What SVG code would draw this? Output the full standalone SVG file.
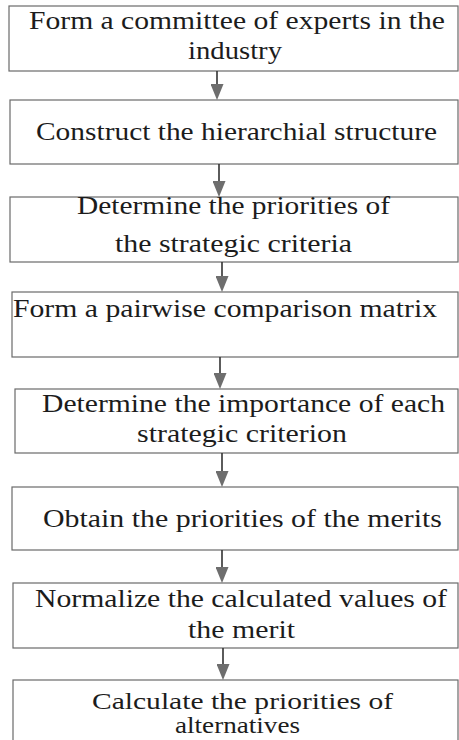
<svg xmlns="http://www.w3.org/2000/svg" width="459" height="740" viewBox="0 0 459 740">
<style>
  .box { fill: #ffffff; stroke: #6a6a6a; stroke-width: 1.2; }
  .lbl { font-family: "Liberation Serif", "Times New Roman", serif; font-size: 25px; fill: #1c1c1c; }
  .sm { font-size: 23px; }
  .conn { stroke: #333333; stroke-width: 1.6; fill: none; }
  .head { fill: #6e6e6e; stroke: none; }
</style>
<defs>
  <marker id="arr" markerUnits="userSpaceOnUse" markerWidth="16" markerHeight="13" refX="0" refY="6.5" orient="auto" viewBox="0 0 16 13">
    <path class="head" d="M0,0 L16,6.5 L0,13 Z"/>
  </marker>
</defs>
<rect width="459" height="740" fill="#ffffff"/>

<g id="node1">
  <rect class="box" x="9" y="6" width="449" height="65"/>
  <text class="lbl" x="29" y="29" textLength="416" lengthAdjust="spacingAndGlyphs">Form a committee of experts in the</text>
  <text class="lbl" x="188" y="59" textLength="94" lengthAdjust="spacingAndGlyphs">industry</text>
</g>
<g id="node2">
  <rect class="box" x="10" y="100" width="448" height="64"/>
  <text class="lbl" x="36" y="140" textLength="401" lengthAdjust="spacingAndGlyphs">Construct the hierarchial structure</text>
</g>
<g id="node3">
  <rect class="box" x="10" y="197" width="448" height="65"/>
  <text class="lbl" x="77" y="214" textLength="313" lengthAdjust="spacingAndGlyphs">Determine the priorities of</text>
  <text class="lbl" x="115" y="252" textLength="237" lengthAdjust="spacingAndGlyphs">the strategic criteria</text>
</g>
<g id="node4">
  <rect class="box" x="12" y="292" width="446" height="65"/>
  <text class="lbl" x="13" y="317" textLength="424" lengthAdjust="spacingAndGlyphs">Form a pairwise comparison matrix</text>
</g>
<g id="node5">
  <rect class="box" x="15" y="389" width="443" height="64"/>
  <text class="lbl" x="42" y="412" textLength="403" lengthAdjust="spacingAndGlyphs">Determine the importance of each</text>
  <text class="lbl" x="137" y="442" textLength="210" lengthAdjust="spacingAndGlyphs">strategic criterion</text>
</g>
<g id="node6">
  <rect class="box" x="12" y="487" width="446" height="63"/>
  <text class="lbl" x="43" y="527" textLength="399" lengthAdjust="spacingAndGlyphs">Obtain the priorities of the merits</text>
</g>
<g id="node7">
  <rect class="box" x="13" y="583" width="445" height="65"/>
  <text class="lbl" x="35" y="607" textLength="412" lengthAdjust="spacingAndGlyphs">Normalize the calculated values of</text>
  <text class="lbl" x="188" y="638" textLength="107" lengthAdjust="spacingAndGlyphs">the merit</text>
</g>
<g id="node8">
  <rect class="box" x="13" y="680" width="445" height="70"/>
  <text class="lbl sm" x="92" y="709" textLength="301" lengthAdjust="spacingAndGlyphs">Calculate the priorities of</text>
  <text class="lbl sm" x="175" y="733" textLength="125" lengthAdjust="spacingAndGlyphs">alternatives</text>
</g>

<g id="connectors">
  <line class="conn" x1="217" y1="71" x2="217" y2="84" marker-end="url(#arr)"/>
  <line class="conn" x1="219" y1="164" x2="219" y2="181" marker-end="url(#arr)"/>
  <line class="conn" x1="222" y1="262" x2="222" y2="276" marker-end="url(#arr)"/>
  <line class="conn" x1="220" y1="357" x2="220" y2="373" marker-end="url(#arr)"/>
  <line class="conn" x1="222" y1="453" x2="222" y2="471" marker-end="url(#arr)"/>
  <line class="conn" x1="222" y1="550" x2="222" y2="567" marker-end="url(#arr)"/>
  <line class="conn" x1="223" y1="648" x2="223" y2="664" marker-end="url(#arr)"/>
</g>
</svg>
